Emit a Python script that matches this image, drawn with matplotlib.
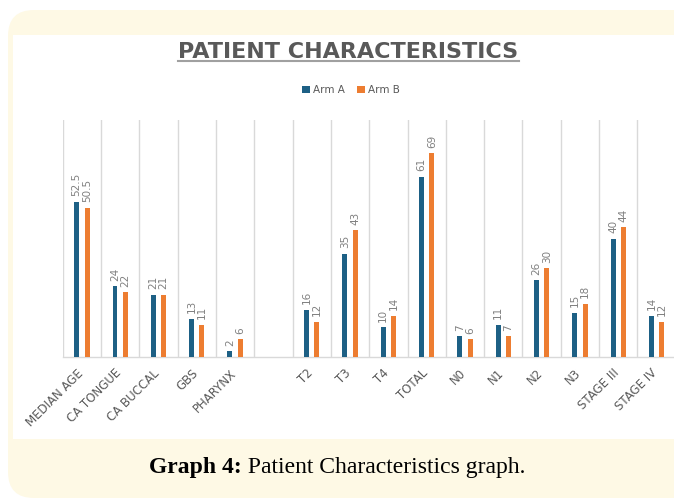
import numpy as np
import matplotlib.pyplot as plt
from matplotlib.patches import FancyBboxPatch, Rectangle, Patch
from matplotlib.lines import Line2D
from matplotlib.transforms import IdentityTransform, ScaledTranslation

# categories and values (blank slot between PHARYNX and T2)
categories = ["MEDIAN AGE", "CA TONGUE", "CA BUCCAL", "GBS", "PHARYNX", "",
              "T2", "T3", "T4", "TOTAL", "N0", "N1", "N2", "N3", "STAGE III", "STAGE IV"]
arm_a = [52.5, 24, 21, 13, 2, np.nan, 16, 35, 10, 61, 7, 11, 26, 15, 40, 14]
arm_b = [50.5, 22, 21, 11, 6, np.nan, 12, 43, 14, 69, 6, 7, 30, 18, 44, 12]
series_names = ["Arm A", "Arm B"]
colors = ["#1d6085", "#ed7d31"]

W, H = 674, 499
fig = plt.figure(figsize=(W / 100, H / 100), dpi=100)
fig.patch.set_facecolor("white")

# cream rounded frame and white inner panel (pixel coords)
frame = FancyBboxPatch((8, 1), 720, 488, boxstyle="round,pad=0,rounding_size=26",
                       transform=IdentityTransform(), facecolor="#fef9e5",
                       edgecolor="none", zorder=-2)
fig.patches.append(frame)
panel = Rectangle((13, H - 439), 700, 404, transform=IdentityTransform(),
                  facecolor="white", edgecolor="none", zorder=-1)
fig.patches.append(panel)

ax = fig.add_axes([62.7 / W, 1 - 357 / H, 613 / W, 237 / H])
ax.set_facecolor("none")

x = np.arange(len(categories))
bw = 0.13
off = 0.135
for vals, sign, c, name in zip([arm_a, arm_b], [-1, 1], colors, series_names):
    ax.bar(x + sign * off, vals, width=bw, color=c, label=name, zorder=3)
    for xi, v in zip(x, vals):
        if np.isnan(v):
            continue
        ax.annotate(f"{v:g}", (xi + sign * off, v), xytext=(0, 4),
                    textcoords="offset points", rotation=90, ha="center",
                    va="bottom", fontsize=7.5, color="#808080")

ax.set_xlim(-0.5, len(categories) - 0.5)
ax.set_ylim(0, 80.3)
ax.set_yticks([])
ax.set_xticks(x)
ax.set_xticklabels(categories, rotation=45, ha="right", va="top",
                   rotation_mode="anchor", fontsize=8.5, color="#595959")
ax.tick_params(axis="x", length=0, pad=7)
shift = ScaledTranslation(-4 / 72, 0, fig.dpi_scale_trans)
for lbl in ax.get_xticklabels():
    lbl.set_transform(lbl.get_transform() + shift)
ax.set_xticks(np.arange(-0.5, len(categories)), minor=True)
ax.tick_params(axis="x", which="minor", length=0)
ax.grid(True, axis="x", which="minor", color="#d9d9d9", linewidth=1, zorder=0)
for s in ["top", "right", "left"]:
    ax.spines[s].set_visible(False)
ax.spines["bottom"].set_color("#d9d9d9")
ax.spines["bottom"].set_linewidth(1)

# title with underline
title = fig.text(348.5 / W, 1 - 58 / H, "PATIENT CHARACTERISTICS", ha="center",
                 va="baseline", fontsize=16, fontweight="bold", color="#595959")
fig.canvas.draw()
bb = title.get_window_extent(fig.canvas.get_renderer())
fig.lines.append(Line2D([bb.x0, bb.x1], [H - 61, H - 61], transform=IdentityTransform(),
                        color="#a0a0a0", linewidth=1.5))

handles = [Patch(facecolor=c, label=n) for c, n in zip(colors, series_names)]
fig.legend(handles=handles, loc="center", bbox_to_anchor=(351 / W, 1 - 90 / H),
           ncol=2, frameon=False, fontsize=7.5, handlelength=0.7, handleheight=0.7,
           handletextpad=0.3, columnspacing=1.2, labelcolor="#595959")

# caption
cap1 = fig.text(0, 1 - 467 / H, "Graph 4:", fontsize=17, fontweight="bold",
                family="Liberation Serif", va="center", ha="left")
cap2 = fig.text(0, 1 - 467 / H, " Patient Characteristics graph.", fontsize=17,
                family="Liberation Serif", va="center", ha="left")
fig.canvas.draw()
r = fig.canvas.get_renderer()
w1 = cap1.get_window_extent(r).width
w2 = cap2.get_window_extent(r).width
start = (W - w1 - w2) / 2
cap1.set_x(start / W)
cap2.set_x((start + w1) / W)

fig.savefig("out.png", dpi=100)
